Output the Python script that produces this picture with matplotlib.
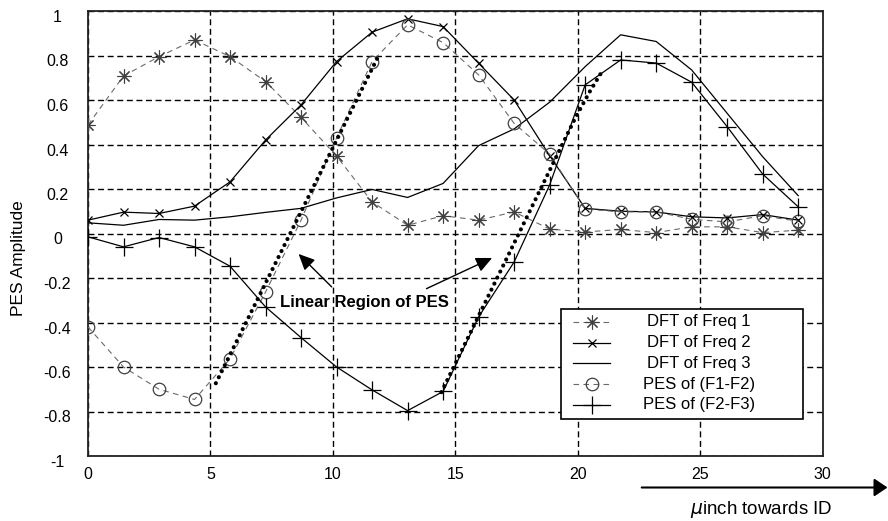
import matplotlib
matplotlib.use("Agg")
import matplotlib.pyplot as plt
from matplotlib.lines import Line2D
from matplotlib.patches import Rectangle, FancyArrowPatch, ArrowStyle
from matplotlib.transforms import ScaledTranslation

plt.rcParams['font.family'] = ['Liberation Sans', 'DejaVu Sans']

# radial position (micro-inch) of each sample
position = [0, 1.45, 2.9, 4.35, 5.8, 7.25, 8.7, 10.15, 11.6, 13.05, 14.5,
            15.95, 17.4, 18.85, 20.3, 21.75, 23.2, 24.65, 26.1, 27.55, 29.0]

dft_freq1 = [0.488, 0.708, 0.795, 0.87, 0.795, 0.683, 0.522, 0.348, 0.142, 0.037, 0.08,
             0.06, 0.097, 0.02, 0.007, 0.018, 0.004, 0.03, 0.03, 0.004, 0.015]
dft_freq2 = [0.06, 0.096, 0.09, 0.123, 0.232, 0.42, 0.578, 0.773, 0.905, 0.965, 0.93,
             0.765, 0.6, 0.35, 0.113, 0.10, 0.097, 0.075, 0.07, 0.085, 0.06]
dft_freq3 = [0.048, 0.037, 0.063, 0.06, 0.075, 0.095, 0.113, 0.16, 0.198, 0.162, 0.225,
             0.395, 0.47, 0.59, 0.75, 0.893, 0.863, 0.735, 0.54, 0.345, 0.17]
pes_f1_f2 = [-0.42, -0.60, -0.70, -0.746, -0.563, -0.263, 0.06, 0.43, 0.773, 0.938, 0.858,
             0.713, 0.495, 0.357, 0.11, 0.097, 0.097, 0.064, 0.052, 0.08, 0.055]
pes_f2_f3 = [-0.015, -0.06, -0.018, -0.06, -0.147, -0.33, -0.468, -0.6, -0.703, -0.796, -0.71,
             -0.375, -0.128, 0.218, 0.668, 0.78, 0.766, 0.68, 0.48, 0.267, 0.12]

series_labels = ["DFT of Freq 1", "DFT of Freq 2", "DFT of Freq 3",
                 "PES of (F1-F2)", "PES of (F2-F3)"]

# linear portions of the two PES curves
linear1_x = [5.22, 11.85]
linear1_y = [-0.673, 0.796]
linear2_x = [14.43, 19.9, 20.5, 21.0]
linear2_y = [-0.713, 0.52, 0.64, 0.73]

x_ticks = [0, 5, 10, 15, 20, 25, 30]
y_ticks = [-1, -0.8, -0.6, -0.4, -0.2, 0, 0.2, 0.4, 0.6, 0.8, 1]
y_tick_labels = ["-1", "-0.8", "-0.6", "-0.4", "-0.2", "0", "0.2", "0.4", "0.6", "0.8", "1"]

W, H = 888, 521
fig = plt.figure(figsize=(W / 100, H / 100), dpi=100)
ax = fig.add_axes([88 / W, 1 - 456 / H, (822.7 - 88) / W, (456 - 11) / H])

grey = '#6a6a6a'
mgrey = '#404040'
dash = (0, (5, 4))
styles = [
    dict(color=grey, lw=0.8, ls=dash, marker=(8, 2, 0), ms=10, mec=mgrey, mew=0.8),
    dict(color='black', lw=0.9, ls='-', marker='x', ms=6, mec='black', mew=0.9),
    dict(color='black', lw=0.9, ls='-'),
    dict(color=grey, lw=0.8, ls=dash, marker='o', ms=9, mfc='none', mec=mgrey, mew=0.9),
    dict(color='black', lw=0.9, ls='-', marker='+', ms=13, mec='black', mew=0.9),
]
series = [dft_freq1, dft_freq2, dft_freq3, pes_f1_f2, pes_f2_f3]
for vals, st in zip(series, styles):
    ax.plot(position, vals, zorder=3, **st)

dot_style = dict(color='black', lw=3.0, ls=(0, (0.01, 1.6)), dash_capstyle='round', zorder=4)
ax.plot(linear1_x, linear1_y, **dot_style)
ax.plot(linear2_x, linear2_y, **dot_style)

ax.set_xlim(0, 30)
ax.set_ylim(-1, 1)
ax.set_xticks(x_ticks)
ax.set_xticklabels([str(t) for t in x_ticks])
ax.set_yticks(y_ticks)
ax.set_yticklabels(y_tick_labels)
ax.grid(True, color='black', lw=1.0, ls=(0, (4.3, 2.6)))
ax.set_axisbelow(True)
ax.tick_params(axis='both', length=0, labelsize=11.5, colors='black')
ax.tick_params(axis='x', pad=8)
ax.tick_params(axis='y', pad=22)
shift = ScaledTranslation(0, -5 / 100, fig.dpi_scale_trans)
for lab in ax.get_yticklabels():
    lab.set_horizontalalignment('center')
    lab.set_transform(lab.get_transform() + shift)
for sp in ax.spines.values():
    sp.set_linewidth(1.3)
    sp.set_color('#222222')

# annotation of the linear region
ax.text(7.84, -0.33, "Linear Region of PES", fontsize=12, fontweight='bold',
        ha='left', va='baseline', zorder=5)
arrow_kw = dict(arrowstyle=ArrowStyle('-|>', head_length=0.75, head_width=0.35),
                mutation_scale=13, color='black', lw=1.0, shrinkA=0, shrinkB=0)
ax.annotate("", xy=(8.6, -0.092), xytext=(9.95, -0.24), arrowprops=arrow_kw, zorder=5)
ax.annotate("", xy=(16.5, -0.11), xytext=(13.82, -0.248), arrowprops=arrow_kw, zorder=5)

# legend box
def fx(px):
    return px / W


def fy(py):
    return 1 - py / H


fig.add_artist(Rectangle((fx(561), fy(418.5)), fx(803) - fx(561), fy(309.3) - fy(418.5),
                         transform=fig.transFigure, facecolor='white',
                         edgecolor='black', lw=1.2, zorder=6))
row_y = [321.7, 342.7, 363.3, 384.3, 405]
for lab, st, ry in zip(series_labels, styles, row_y):
    line_st = {k: v for k, v in st.items() if k not in ('marker', 'ms', 'mec', 'mew', 'mfc')}
    fig.add_artist(Line2D([fx(573), fx(610)], [fy(ry), fy(ry)], transform=fig.transFigure,
                          zorder=7, **line_st))
    if 'marker' in st:
        mk = {k: v for k, v in st.items() if k in ('marker', 'ms', 'mec', 'mew', 'mfc')}
        fig.add_artist(Line2D([fx(591.5)], [fy(ry)], transform=fig.transFigure,
                              ls='none', zorder=7, **mk))
    fig.text(fx(699), fy(ry), lab, fontsize=12, ha='center', va='center', zorder=7)

# axis titles
fig.text(19 / W, 1 - 258 / H, "PES Amplitude", rotation=90, ha='center', va='center',
         fontsize=12.5)
fig.text(761 / W, 1 - 509 / H, r"$\mu$inch towards ID", ha='center', va='center',
         fontsize=13.5)
fig.add_artist(FancyArrowPatch((641.7 / W, 1 - 487.5 / H), (887.5 / W, 1 - 487.5 / H),
                               transform=fig.transFigure,
                               arrowstyle=ArrowStyle('-|>', head_length=8, head_width=5.4),
                               mutation_scale=1, color='black', lw=1.5,
                               shrinkA=0, shrinkB=0))

fig.savefig("out.png", dpi=100)
